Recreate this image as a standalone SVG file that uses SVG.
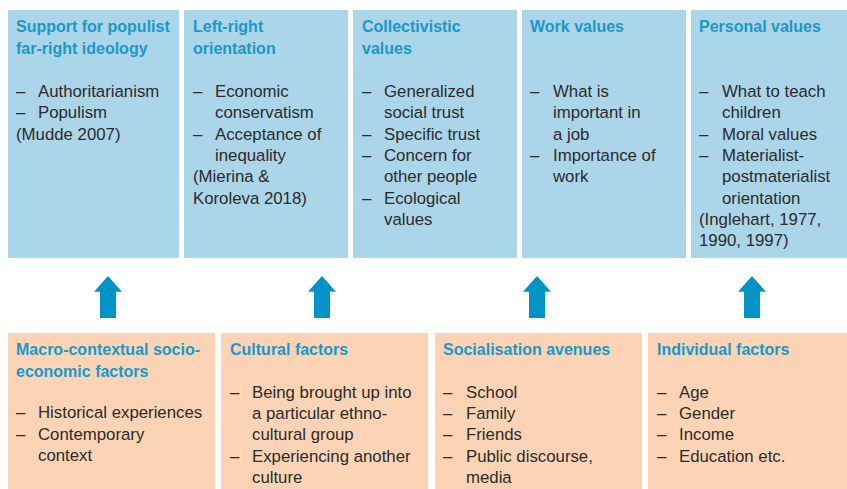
<svg xmlns="http://www.w3.org/2000/svg" width="847" height="489" viewBox="0 0 847 489">
  <style>
    .value { fill: #abd5e8; }
    .factor { fill: #fcd4b5; }
    .title { font-family: "Liberation Sans", Arial, sans-serif; font-weight: bold; font-size: 16px; fill: #1a98c8; }
    .body { font-family: "Liberation Sans", Arial, sans-serif; font-size: 16.8px; fill: #2b2b2b; }
    .arrow { fill: #0094c6; }
  </style>
  <defs>
    <path id="up" class="arrow" d="M0,0 L14,15.7 L8,15.7 L8,42 L-8,42 L-8,15.7 L-14,15.7 Z"/>
  </defs>
  <rect width="847" height="489" fill="#ffffff"/>

  <!-- Value dimensions (top row) -->
  <g id="support-populist">
    <rect class="value" x="8" y="10" width="171" height="248"/>
    <text class="title" x="16" y="32">Support for populist</text>
    <text class="title" x="16" y="53.5">far-right ideology</text>
    <text class="body" x="16" y="97">–</text><text class="body" x="38" y="97">Authoritarianism</text>
    <text class="body" x="16" y="118.3">–</text><text class="body" x="38" y="118.3">Populism</text>
    <text class="body" x="16" y="139.6">(Mudde 2007)</text>
  </g>

  <g id="left-right">
    <rect class="value" x="184" y="10" width="164" height="248"/>
    <text class="title" x="193" y="32">Left-right</text>
    <text class="title" x="193" y="53.5">orientation</text>
    <text class="body" x="193" y="97">–</text><text class="body" x="215" y="97">Economic</text>
    <text class="body" x="215" y="118.3">conservatism</text>
    <text class="body" x="193" y="139.6">–</text><text class="body" x="215" y="139.6">Acceptance of</text>
    <text class="body" x="215" y="160.9">inequality</text>
    <text class="body" x="193" y="182.2">(Mierina &amp;</text>
    <text class="body" x="193" y="203.5">Koroleva 2018)</text>
  </g>

  <g id="collectivistic">
    <rect class="value" x="353" y="10" width="164" height="248"/>
    <text class="title" x="362" y="32">Collectivistic</text>
    <text class="title" x="362" y="53.5">values</text>
    <text class="body" x="362" y="97">–</text><text class="body" x="384" y="97">Generalized</text>
    <text class="body" x="384" y="118.3">social trust</text>
    <text class="body" x="362" y="139.6">–</text><text class="body" x="384" y="139.6">Specific trust</text>
    <text class="body" x="362" y="160.9">–</text><text class="body" x="384" y="160.9">Concern for</text>
    <text class="body" x="384" y="182.2">other people</text>
    <text class="body" x="362" y="203.5">–</text><text class="body" x="384" y="203.5">Ecological</text>
    <text class="body" x="384" y="224.8">values</text>
  </g>

  <g id="work-values">
    <rect class="value" x="522" y="10" width="164" height="248"/>
    <text class="title" x="530" y="32">Work values</text>
    <text class="body" x="530" y="97">–</text><text class="body" x="553" y="97">What is</text>
    <text class="body" x="553" y="118.3">important in</text>
    <text class="body" x="553" y="139.6">a job</text>
    <text class="body" x="530" y="160.9">–</text><text class="body" x="553" y="160.9">Importance of</text>
    <text class="body" x="553" y="182.2">work</text>
  </g>

  <g id="personal-values">
    <rect class="value" x="691" y="10" width="156" height="248"/>
    <text class="title" x="699" y="32">Personal values</text>
    <text class="body" x="699" y="97">–</text><text class="body" x="722" y="97">What to teach</text>
    <text class="body" x="722" y="118.3">children</text>
    <text class="body" x="699" y="139.6">–</text><text class="body" x="722" y="139.6">Moral values</text>
    <text class="body" x="699" y="160.9">–</text><text class="body" x="722" y="160.9">Materialist-</text>
    <text class="body" x="722" y="182.2">postmaterialist</text>
    <text class="body" x="722" y="203.5">orientation</text>
    <text class="body" x="699" y="224.8">(Inglehart, 1977,</text>
    <text class="body" x="699" y="246.1">1990, 1997)</text>
  </g>

  <!-- Influence arrows -->
  <g id="connectors">
    <use href="#up" x="108" y="276"/>
    <use href="#up" x="322" y="276"/>
    <use href="#up" x="537" y="276"/>
    <use href="#up" x="752" y="276"/>
  </g>

  <!-- Influencing factors (bottom row) -->
  <g id="macro-contextual">
    <rect class="factor" x="8" y="333" width="207" height="156"/>
    <text class="title" x="16" y="355">Macro-contextual socio-</text>
    <text class="title" x="16" y="376.5">economic factors</text>
    <text class="body" x="16" y="418.3">–</text><text class="body" x="38" y="418.3">Historical experiences</text>
    <text class="body" x="16" y="439.6">–</text><text class="body" x="38" y="439.6">Contemporary</text>
    <text class="body" x="38" y="460.9">context</text>
  </g>

  <g id="cultural">
    <rect class="factor" x="221" y="333" width="207" height="156"/>
    <text class="title" x="230" y="355">Cultural factors</text>
    <text class="body" x="230" y="397.7">–</text><text class="body" x="252" y="397.7">Being brought up into</text>
    <text class="body" x="252" y="419">a particular ethno-</text>
    <text class="body" x="252" y="440.3">cultural group</text>
    <text class="body" x="230" y="461.6">–</text><text class="body" x="252" y="461.6">Experiencing another</text>
    <text class="body" x="252" y="482.9">culture</text>
  </g>

  <g id="socialisation">
    <rect class="factor" x="435" y="333" width="207" height="156"/>
    <text class="title" x="443" y="355">Socialisation avenues</text>
    <text class="body" x="443" y="397.7">–</text><text class="body" x="466" y="397.7">School</text>
    <text class="body" x="443" y="419">–</text><text class="body" x="466" y="419">Family</text>
    <text class="body" x="443" y="440.3">–</text><text class="body" x="466" y="440.3">Friends</text>
    <text class="body" x="443" y="461.6">–</text><text class="body" x="466" y="461.6">Public discourse,</text>
    <text class="body" x="466" y="482.9">media</text>
  </g>

  <g id="individual">
    <rect class="factor" x="648" y="333" width="199" height="156"/>
    <text class="title" x="657" y="355">Individual factors</text>
    <text class="body" x="657" y="397.7">–</text><text class="body" x="679" y="397.7">Age</text>
    <text class="body" x="657" y="419">–</text><text class="body" x="679" y="419">Gender</text>
    <text class="body" x="657" y="440.3">–</text><text class="body" x="679" y="440.3">Income</text>
    <text class="body" x="657" y="461.6">–</text><text class="body" x="679" y="461.6">Education etc.</text>
  </g>
</svg>
